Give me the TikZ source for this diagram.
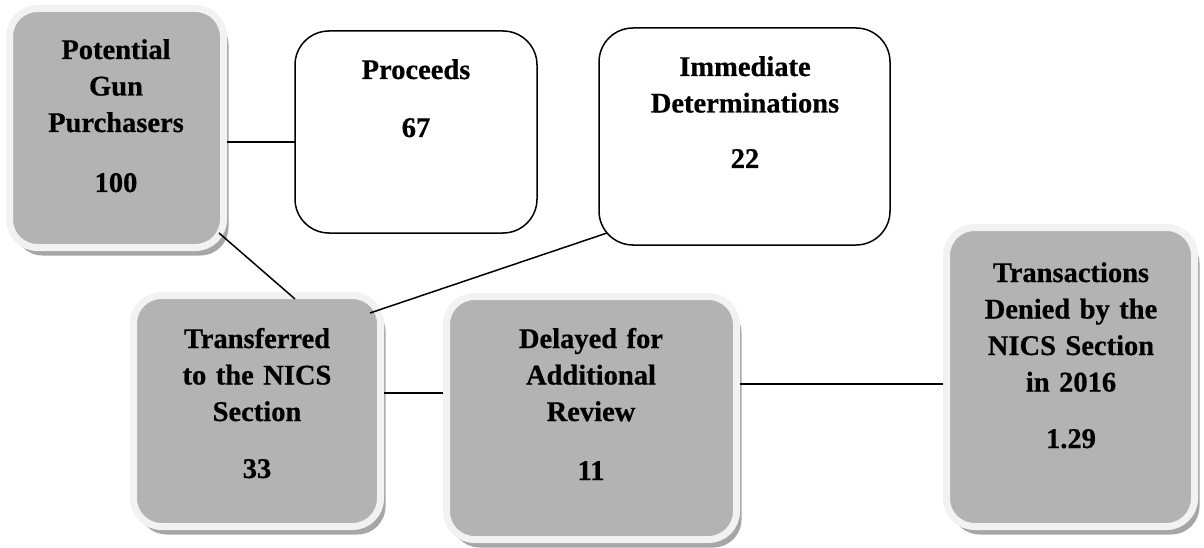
\documentclass[tikz,border=0pt]{standalone}
\usepackage{fontspec}
\setmainfont{Liberation Serif}[BoldFeatures={FakeBold=0.6}]
\usetikzlibrary{calc,shadows}
\definecolor{boxgray}{HTML}{B3B3B3}
\definecolor{rimgray}{HTML}{F2F2F2}
\definecolor{shadowgray}{HTML}{A6A6A6}
\tikzset{
  graybox/.style={rectangle, rounded corners=28pt, draw=rimgray, line width=7pt, fill=boxgray,
    outer sep=0pt, inner sep=0pt,
    drop shadow={shadow xshift=5pt, shadow yshift=-8pt, fill=shadowgray, opacity=1}},
  whitebox/.style={rectangle, rounded corners=34pt, draw=black, line width=1.5pt, fill=white,
    outer sep=0pt, inner sep=0pt},
  boxtext/.style={anchor=base, text width=280pt, align=center, inner sep=0pt,
    font=\bfseries\fontsize{28.5}{36.5}\selectfont},
  link/.style={draw=black, line width=1.5pt}
}
\begin{document}
\begin{tikzpicture}[x=1pt, y=-1pt]
\useasboundingbox (0,0) rectangle (1204,548);
% boxes
\node[graybox, minimum width=214pt, minimum height=239pt] (b1) at (116.5,128) {};
\node[whitebox, minimum width=242pt, minimum height=202pt] (pr) at (416,132) {};
\node[whitebox, minimum width=291pt, minimum height=217pt] (im) at (744.5,136.5) {};
\node[graybox, minimum width=247pt, minimum height=231pt] (tr) at (257,411) {};
\node[graybox, minimum width=290pt, minimum height=243pt] (de) at (591.5,418) {};
\node[graybox, minimum width=248pt, minimum height=299pt] (ta) at (1070.5,377) {};
% connectors
\draw[link] ($(b1.east)+(3.5,14)$) -- ($(pr.west)+(0,10)$);
\draw[link] ($(b1.south east)+(-4.5,-14.5)$) -- ($(tr.north)+(38,3.5)$);
\draw[link] ($(tr.north east)+(-10.5,17.5)$) -- ($(im.south west)+(8,-12)$);
\draw[link] ($(tr.east)+(3.5,-18)$) -- ($(de.west)+(-3.5,-25)$);
\draw[link] ($(de.east)+(3.5,-34)$) -- ($(ta.west)+(-3.5,7)$);
% texts
\node[boxtext] (t1) at (116,59) {Potential\\Gun\\Purchasers\\[23.5pt]100};
\node[boxtext] (t2) at (416,79) {Proceeds\\[21.5pt]67};
\node[boxtext] (t3) at (745,76) {Immediate\\Determinations\\[19pt]22};
\node[boxtext] (t4) at (257,348) {Transferred\\to the NICS\\Section\\[20.5pt]33};
\node[boxtext] (t5) at (591,348) {Delayed for\\Additional\\Review\\[22.5pt]11};
\node[boxtext] (t6) at (1071,282) {Transactions\\Denied by the\\NICS Section\\in 2016\\[20pt]1.29};
\end{tikzpicture}
\end{document}
